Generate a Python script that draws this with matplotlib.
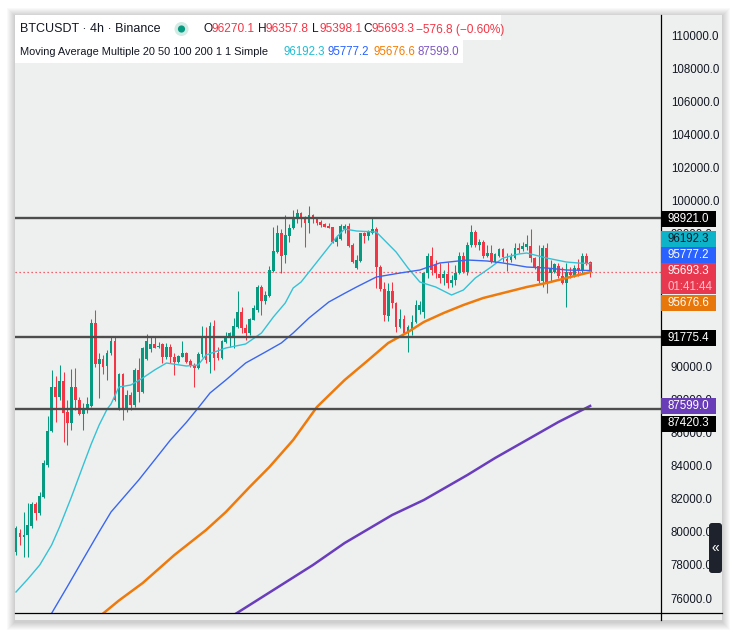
import numpy as np
import matplotlib.pyplot as plt
import matplotlib.transforms as mtransforms
from matplotlib.patches import Rectangle, Circle, FancyBboxPatch
from matplotlib.lines import Line2D

plt.rcParams['font.family'] = ['Liberation Sans', 'DejaVu Sans']

# 4h candles (open, high, low, close)
opens = [78779, 79926, 79685, 79805, 80349, 81677, 81133, 82100, 84033, 86086,
         88743, 88139, 89105, 87233, 86569, 88743, 87958, 87112, 87415, 87595,
         92608, 90132, 90434, 90011, 90796, 91521, 87354, 89528, 87354, 88260,
         87656, 89769, 88441, 90434, 91038, 91340, 91159, 91340, 90555, 91159,
         90555, 90253, 90555, 90796, 90313, 90071, 89890, 90736, 91762, 90253,
         92427, 90796, 90494, 91461, 91702, 91702, 92366, 93272, 92306, 92004,
         92789, 93393, 94782, 93937, 94238, 95748, 96895, 98043, 96714, 97862,
         98345, 98888, 99251, 99009, 98647, 99130, 98949, 98707, 98587, 98466,
         98405, 97499, 97680, 98284, 98466, 97318, 95929, 96352, 98043, 97862,
         98043, 98284, 95989, 94660, 93031, 94540, 93816, 92366, 92850, 92004,
         92185, 92668, 93393, 93272, 95627, 96654, 96110, 95567, 95325, 95567,
         95023, 95204, 95627, 96654, 95687, 97318, 98103, 97318, 97499, 96654,
         96835, 96291, 96654, 97077, 96473, 96412, 96533, 97137, 97077, 97197,
         97258, 96533, 96050, 95144, 97137, 95627, 95687, 96050, 95446, 95023,
         95687, 95506, 95929, 95808, 96654, 96270.1]
highs = [80349, 80168, 81194, 81738, 81800, 81800, 82400, 84330, 86990, 89769,
         89410, 90071, 89648, 87958, 89830, 89890, 88139, 87780, 88139, 92850,
         93393, 90796, 90675, 90977, 91762, 91823, 89590, 89590, 88562, 88441,
         89890, 90494, 91159, 91943, 91823, 91823, 91461, 91400, 91400, 91340,
         90796, 90675, 91521, 90857, 90434, 90192, 90857, 92427, 92366, 92668,
         92789, 91159, 91581, 92064, 92064, 92910, 94540, 93574, 92548, 92910,
         93695, 94902, 94902, 94540, 96050, 98405, 98526, 98284, 99130, 98587,
         99432, 99490, 99311, 99070, 99670, 99190, 99009, 98828, 98647, 98647,
         98405, 97922, 98587, 98587, 98647, 97439, 96714, 98043, 98103, 98224,
         98949, 98405, 96110, 95083, 95023, 95083, 93876, 93453, 93091, 92487,
         93091, 93997, 93937, 95687, 96835, 97197, 96412, 96231, 95808, 96291,
         95506, 96110, 96895, 96895, 97499, 98526, 98224, 97680, 97620, 97318,
         97318, 96835, 97137, 97137, 96835, 96835, 97439, 97439, 97499, 97922,
         98284, 96593, 97318, 97318, 97439, 96412, 96231, 96231, 95989, 96231,
         95989, 96110, 96473, 96835, 96835, 96357.8]
lows = [78600, 79202, 78477, 78477, 80228, 80710, 81010, 82040, 83910, 86030,
        86630, 87958, 85420, 85240, 86146, 87354, 87050, 86146, 87173, 87535,
        89951, 88079, 89528, 89165, 90675, 87900, 87354, 86750, 87233, 87354,
        87535, 87837, 88380, 90373, 90857, 91098, 91098, 90192, 90434, 90192,
        89467, 90192, 90555, 90192, 89951, 88743, 89830, 90555, 90192, 89590,
        89769, 90373, 90434, 91400, 91159, 91098, 92306, 92004, 91581, 91883,
        92789, 93272, 93091, 93756, 94178, 95687, 96835, 95627, 96231, 97499,
        98284, 98647, 98405, 97197, 98043, 98647, 98526, 98405, 98405, 98345,
        97439, 97258, 97620, 98043, 97197, 96231, 95868, 96291, 97439, 97620,
        97982, 94721, 94540, 92720, 92728, 93514, 92064, 92306, 92004, 90857,
        91883, 92608, 93150, 92910, 95325, 95506, 95325, 95023, 94902, 94721,
        94782, 94902, 95567, 95627, 95506, 97197, 97197, 97016, 96533, 96593,
        96231, 96231, 96593, 96291, 95748, 96291, 96473, 96835, 96956, 97016,
        96291, 95868, 95023, 94782, 94419, 95144, 95627, 95325, 94962, 93574,
        95325, 95385, 95446, 95627, 96110, 95398.1]
closes = [80228, 79685, 79805, 80409, 81677, 81133, 82160, 84153, 86086, 88743,
          88139, 89105, 87173, 86569, 88743, 87958, 87112, 87475, 87716, 92608,
          90132, 90434, 89951, 90796, 91521, 87958, 89528, 87354, 88260, 87656,
          89769, 88441, 91098, 91521, 91340, 91098, 91219, 90555, 91159, 90555,
          90253, 90615, 90796, 90253, 90071, 89890, 90736, 91762, 90373, 92427,
          90494, 90494, 91521, 91762, 92004, 92427, 93272, 92306, 92004, 92850,
          93514, 94782, 93937, 94299, 95808, 96956, 98043, 96654, 97922, 98345,
          99009, 99251, 98888, 98647, 99130, 98888, 98647, 98526, 98405, 98345,
          97499, 97741, 98466, 98466, 97258, 96291, 96412, 98043, 97862, 98103,
          98284, 95989, 94660, 93091, 94540, 93816, 92366, 92850, 92004, 92366,
          92668, 93695, 93695, 95627, 96654, 95808, 95627, 95325, 95567, 95023,
          95204, 95627, 96654, 95687, 97318, 98103, 97318, 97499, 96654, 96835,
          96291, 96775, 97077, 96593, 96352, 96593, 97137, 97016, 97258, 97379,
          96533, 95989, 95144, 97137, 95023, 95929, 96171, 95446, 95023, 95687,
          95506, 95929, 95808, 96654, 96231, 95693.3]

# moving averages, read at a few candle positions
ma20_idx = [0, 3, 6, 9, 11, 14, 17, 19, 21, 23, 24, 26, 29, 32, 35, 38, 43, 46, 48, 53,
            58, 62, 65, 68, 70, 72, 76, 79, 81, 83, 86, 91, 93, 96, 99, 102, 106, 110,
            113, 116, 120, 123, 127, 129, 131, 134, 139, 142, 145]
ma20_val = [76363, 77150, 77994, 79200, 80288, 82100, 84033, 85300, 86448, 87400, 87716,
            88743, 88864, 89286, 89769, 90192, 90011, 90071, 90675, 91098, 91340, 92004,
            92970, 93816, 94721, 95083, 96291, 97200, 97801, 98284, 98164, 98103, 97620,
            96895, 95929, 95083, 94782, 94299, 94601, 95325, 95989, 96533, 96775, 96835,
            96714, 96533, 96291, 96231, 96192.3]
ma50_idx = [8, 13, 17, 21, 24, 28, 31, 35, 39, 43, 46, 49, 53, 58, 63, 67, 70, 74, 79,
            83, 86, 91, 97, 102, 107, 114, 119, 123, 129, 134, 139, 145]
ma50_val = [74672, 76700, 78357, 80000, 81194, 82300, 83127, 84334, 85542, 86600, 87475,
            88381, 89165, 90192, 90857, 91400, 92004, 92910, 93876, 94400, 94782, 95385,
            95627, 95808, 96231, 96412, 96352, 96231, 95989, 95929, 95808, 95777.2]
ma100_idx = [20, 26, 32, 40, 48, 53, 59, 64, 70, 76, 83, 89, 94, 99, 103, 108, 113, 118,
             124, 129, 134, 139, 145]
ma100_val = [74672, 75850, 76906, 78597, 80107, 81194, 82704, 83911, 85542, 87535, 89165,
             90373, 91400, 92064, 92668, 93212, 93695, 94118, 94480, 94782, 95023, 95325,
             95676.6]
ma200_idx = [53, 65, 75, 83, 95, 103, 114, 121, 129, 137, 145]
ma200_val = [74672, 76483, 77994, 79322, 81013, 81919, 83429, 84455, 85542, 86630, 87599.0]

levels = [98921.0, 91775.4, 87420.3]
last_price = 95693.3
# 92000, 94000 and 96000 sit fully behind the price labels
yticks = [v for v in range(76000, 110001, 2000) if v not in (92000, 94000, 96000)]

W, H = 737, 636
fig = plt.figure(figsize=(W / 100, H / 100), dpi=100)
fig.patch.set_facecolor('white')
tp = mtransforms.Affine2D().scale(1, -1).translate(0, H)  # pixel coords, top-left origin

bg = '#eef0ef'
# soft shadow round the chart frame
for k in range(1, 9):
    fig.add_artist(Rectangle((15 - k, 16 - k), 707 + 2 * k, 606 + 2 * k, transform=tp,
                             fc='black', ec='none', alpha=0.022, zorder=-6))
fig.add_artist(Rectangle((15, 15), 707, 605, transform=tp, fc=bg, ec='none', zorder=-5))

ax = fig.add_axes([15 / W, 1 - 613 / H, 646 / W, 598 / H])
ax.set_facecolor(bg)

idx = np.arange(len(opens))
o = np.array(opens); c = np.array(closes)
cols = np.where(c >= o, '#089981', '#f23645')
ax.vlines(idx, lows, highs, colors=cols, lw=0.75, zorder=3)
ax.bar(idx, np.maximum(np.abs(c - o), 50), bottom=np.minimum(o, c), width=0.7,
       color=cols, linewidth=0, zorder=4)

ax.plot(ma20_idx, ma20_val, color='#35c2d6', lw=1.0, zorder=5)
ax.plot(ma50_idx, ma50_val, color='#3a66f0', lw=1.0, zorder=5)
ax.plot(ma100_idx, ma100_val, color='#ef7a0c', lw=1.8, zorder=5)
ax.plot(ma200_idx, ma200_val, color='#6a3dbd', lw=1.8, zorder=5)

for lv in levels:
    ax.axhline(lv, color='#4d4d4d', lw=1.7, zorder=6)
ax.axhline(last_price, color='#f23645', lw=0.9, ls=(0, (1, 2.2)), zorder=2)

ax.set_xlim(-0.25, 162.9)
ax.set_ylim(75095, 111208)
ax.set_xticks([])
ax.yaxis.tick_right()
ax.set_yticks(yticks)
ax.set_yticklabels([f'{v:.1f}' for v in yticks])
ax.tick_params(axis='y', length=0, pad=7, labelsize=8.3, labelcolor='#131722')
for s in ax.spines.values():
    s.set_visible(False)

# frame lines
fig.add_artist(Line2D([661, 661], [15, 620], transform=tp, color='black', lw=0.9, zorder=3))
fig.add_artist(Line2D([15, 722], [613, 613], transform=tp, color='black', lw=0.9, zorder=3))

# price labels on the scale
label_vals = ['98921.0', '96192.3', '95777.2', '95693.3', '95676.6', '91775.4', '87599.0', '87420.3']
label_y = [219, 238.5, 255, 271, 303, 338, 406, 423.5]
label_bg = ['#000000', '#0db3c9', '#2962ff', '#e8384f', '#e8770b', '#000000', '#6a3db8', '#000000']
label_fg = ['white', '#131722', 'white', 'white', 'white', 'white', 'white', 'white']
for s, yc, b, f in zip(label_vals, label_y, label_bg, label_fg):
    hgt = 31 if s == '95693.3' else 16
    top = yc - 8
    fig.add_artist(Rectangle((661, top), 55, hgt, transform=tp, fc=b, ec='none', zorder=5))
    fig.text(668, yc, s, transform=tp, color=f, fontsize=8.3, va='center', ha='left', zorder=6)
fig.text(668, 287, '01:41:44', transform=tp, color='#f9c2c9', fontsize=8.3, va='center',
         ha='left', zorder=6)

# collapse button
fig.add_artist(FancyBboxPatch((709, 523), 13, 50, boxstyle='round,pad=0,rounding_size=3',
                              transform=tp, fc='#1e222d', ec='none', zorder=7))
fig.text(715.5, 548, '«', transform=tp, color='white', fontsize=10, va='center', ha='center',
         zorder=8)

# legend header
fig.add_artist(Rectangle((15, 15), 486, 25, transform=tp, fc='white', ec='none', zorder=4))
fig.add_artist(Rectangle((15, 40), 448, 23, transform=tp, fc='white', ec='none', zorder=4))
fig.text(20, 29, 'BTCUSDT · 4h · Binance', transform=tp, color='#131722', fontsize=9.0,
         va='center', zorder=6)
fig.add_artist(Circle((181.5, 29), 7, transform=tp, fc='#d3ebe5', ec='none', zorder=5))
fig.add_artist(Circle((181.5, 29), 3.6, transform=tp, fc='#089981', ec='none', zorder=6))
ohlc = [('O', '96270.1', 204), ('H', '96357.8', 258), ('L', '95398.1', 312), ('C', '95693.3', 363)]
for k, v, x0 in ohlc:
    fig.text(x0, 29.5, k, transform=tp, color='#131722', fontsize=8.6, va='center', zorder=6)
    fig.text(x0 + 8, 29.5, v, transform=tp, color='#f23645', fontsize=8.6, va='center', zorder=6)
fig.text(416, 29.5, '\u2212576.8 (\u22120.60%)', transform=tp, color='#f23645', fontsize=8.6,
         va='center', zorder=6)

fig.text(20, 52, 'Moving Average Multiple 20 50 100 200 1 1 Simple', transform=tp,
         color='#131722', fontsize=7.9, va='center', zorder=6)
ma_vals = ['96192.3', '95777.2', '95676.6', '87599.0']
ma_cols = ['#22bcd2', '#2962ff', '#f57c00', '#7e57c2']
for v, col, x0 in zip(ma_vals, ma_cols, [283, 328, 373, 418]):
    fig.text(x0, 52, v, transform=tp, color=col, fontsize=8.3, va='center', zorder=6)

fig.savefig('out.png', dpi=100)
